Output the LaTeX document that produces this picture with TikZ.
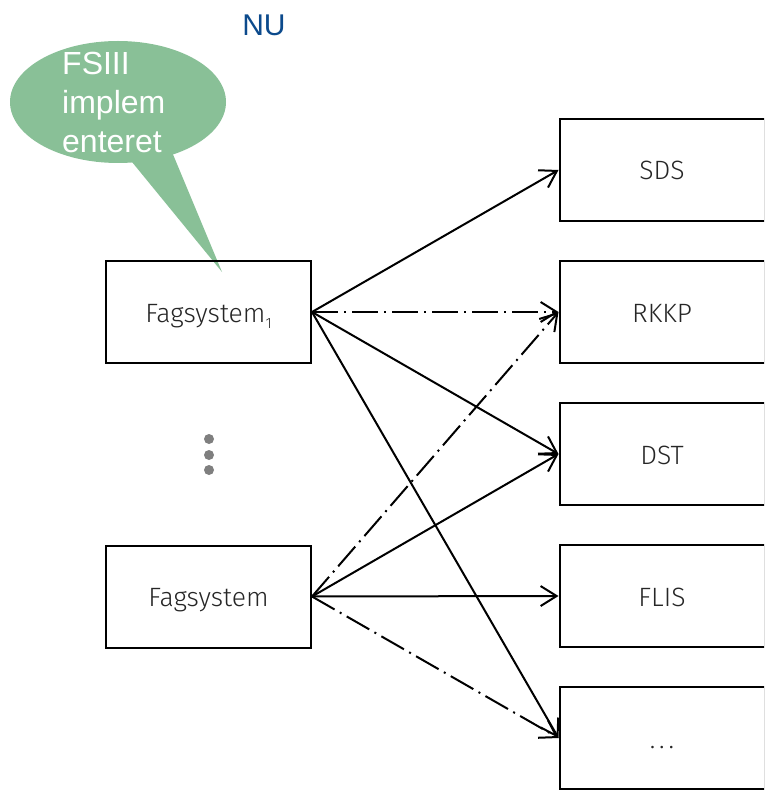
\documentclass[tikz,border=0pt]{standalone}
\usepackage{fontspec}
\setmainfont{Liberation Sans}
\newfontfamily\lightfont{Fira Sans Light}
\usetikzlibrary{arrows.meta}
\definecolor{calloutgreen}{RGB}{137,192,151}
\definecolor{nublue}{RGB}{12,74,140}
\definecolor{dotgray}{RGB}{127,127,127}
\begin{document}
\begin{tikzpicture}[x=1pt,y=-1pt,
  sysbox/.style={draw=black, line width=2pt, minimum width=205pt, minimum height=102pt,
    inner sep=0pt, text height=26pt, text depth=6pt,
    font=\lightfont\fontsize{26.5}{30}\selectfont, text=black!85},
  link/.style={line width=2pt, -{Straight Barb[length=16pt,width=20pt]}},
  dd/.style={dash pattern=on 26pt off 6pt on 2pt off 6pt},
  dotnode/.style={circle, fill=dotgray, inner sep=0pt, minimum size=10pt}]
\useasboundingbox (0,0) rectangle (764,791);
\clip (0,0) rectangle (764,791);
% callout
\fill[calloutgreen] (118,102) ellipse [x radius=108, y radius=61];
\fill[calloutgreen] (114,140) -- (167,140) -- (222,272) -- cycle;
\node[anchor=north west, inner sep=0pt, align=left, text=white,
  font=\fontsize{32}{39}\selectfont] (callout) at (62,52) {FSIII\\implem\\enteret};
% title
\node[text=nublue, font=\fontsize{30}{36}\selectfont, inner sep=0pt] (nu) at (264,25) {NU};
% boxes
\node[sysbox] (f1) at (208.5,312) {Fagsystem\raisebox{-0.25em}{\fontsize{15}{15}\selectfont 1}};
\node[sysbox] (f2) at (208.5,596.5) {Fagsystem};
\node[sysbox] (sds) at (662,170) {SDS};
\node[sysbox] (rkkp) at (662,312) {RKKP};
\node[sysbox] (dst) at (662,454) {DST};
\node[sysbox] (flis) at (662,596) {FLIS};
\node[sysbox] (etc) at (662,738) {.\kern4pt.\kern4pt.};
% dots
\node[dotnode] (d1) at (209,439) {};
\node[dotnode] (d2) at (209,455) {};
\node[dotnode] (d3) at (209,470) {};
% connectors
\draw[link] (f1.east) -- (sds.west);
\draw[link,dd] (f1.east) -- (rkkp.west);
\draw[link] (f1.east) -- (dst.west);
\draw[link] (f1.east) -- (etc.west);
\draw[link,dd] (f2.east) -- (rkkp.west);
\draw[link] (f2.east) -- (dst.west);
\draw[link] (f2.east) -- (flis.west);
\draw[link,dd] (f2.east) -- (etc.west);
\end{tikzpicture}
\end{document}
